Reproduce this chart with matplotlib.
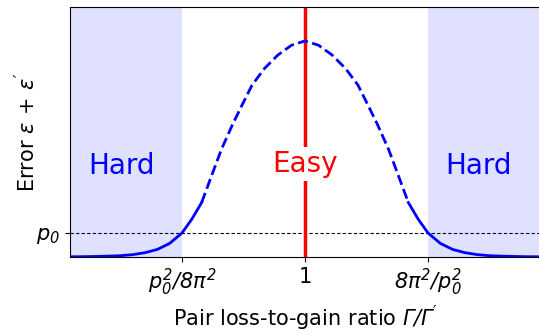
import matplotlib
matplotlib.use('Agg')
import matplotlib.pyplot as plt
import numpy as np

plt.rcParams.update({'font.size': 15,
                     'mathtext.fontset': 'custom',
                     'mathtext.rm': 'DejaVu Sans:italic',
                     'mathtext.it': 'DejaVu Sans:italic',
                     'mathtext.bf': 'DejaVu Sans:bold'})

# half profile of the error curve (x = log10 of ratio, left of 1)
tail_x = [-1.91, -1.8, -1.7, -1.6, -1.5, -1.4, -1.3, -1.2, -1.1, -1.0, -0.92, -0.84]
tail_y = [0.001, 0.0015, 0.0025, 0.004, 0.006, 0.011, 0.02, 0.035, 0.063, 0.111, 0.175, 0.252]
mid_x = [-0.84, -0.76, -0.68, -0.59, -0.51, -0.43, -0.33, -0.22, -0.11, 0.0]
mid_y = [0.252, 0.375, 0.497, 0.612, 0.705, 0.796, 0.872, 0.935, 0.98, 1.0]

p0 = 0.111
hard_edge = 1.0
tick_pos = [-1, 0, 1]
tick_labels = [r'$p_0^2/8\pi^2$', '1', r'$8\pi^2/p_0^2$']

# curve is symmetric about ratio 1
tx, ty = np.array(tail_x), np.array(tail_y)
mx, my = np.array(mid_x), np.array(mid_y)
mid_full_x = np.concatenate([mx, -mx[::-1][1:]])
mid_full_y = np.concatenate([my, my[::-1][1:]])

fig = plt.figure(figsize=(5.39, 3.32), dpi=100)
ax = fig.add_axes([70/539, 75/332, 470/539, 250/332])

ax.axvspan(-2, -hard_edge, color='blue', alpha=0.12, lw=0)
ax.axvspan(hard_edge, 2, color='blue', alpha=0.12, lw=0)
ax.axhline(p0, color='k', lw=0.8, ls=(0, (3, 2)))
ax.axvline(0, color='red', lw=2.5)

ax.plot(tx, ty, color='blue', lw=2)
ax.plot(-tx, ty, color='blue', lw=2)
ax.plot(mid_full_x, mid_full_y, color='blue', lw=2, ls='--')

ax.text(-1.49, 0.42, 'Hard', color='blue', fontsize=20, ha='center', va='center')
ax.text(1.41, 0.42, 'Hard', color='blue', fontsize=20, ha='center', va='center')
ax.text(0, 0.43, 'Easy', color='red', fontsize=20, ha='center', va='center',
        bbox=dict(facecolor='white', edgecolor='none', pad=2))

ax.set_xlim(-1.91, 1.91)
ax.set_ylim(0, 1.157)
ax.set_xticks(tick_pos)
ax.set_xticklabels(tick_labels)
ax.set_yticks([p0])
ax.set_yticklabels([r'$p_0$'])
ax.set_xlabel(r"Pair loss-to-gain ratio $\Gamma/\Gamma'$")
ax.set_ylabel(r"Error $\epsilon\,+\,\epsilon'$", labelpad=-2)

fig.savefig('out.png', dpi=100)
